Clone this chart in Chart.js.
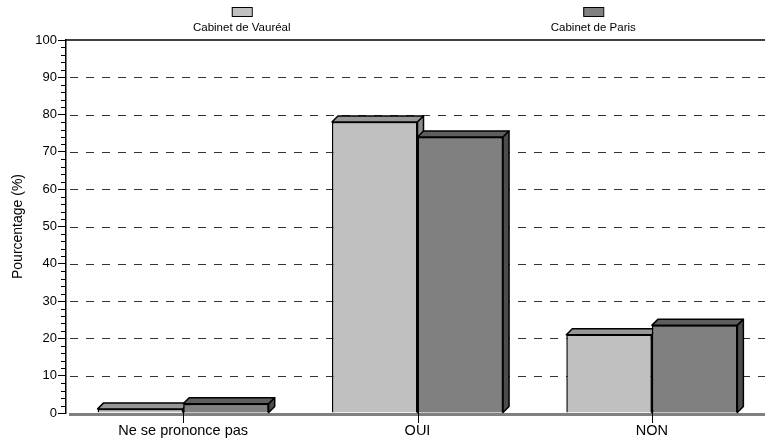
<!DOCTYPE html>
<html>
<head>
<meta charset="utf-8">
<script src="https://cdn.jsdelivr.net/npm/chart.js@4/dist/chart.umd.min.js"></script>
<style>
  html, body { margin: 0; padding: 0; background: #fff; overflow: hidden; }
  #wrap { width: 770px; height: 443px; }
</style>
</head>
<body>
<div id="wrap"><canvas id="c" width="770" height="443"></canvas></div>
<script>
// Survey answers per office (percent of respondents)
const categories = ['Ne se prononce pas', 'OUI', 'NON'];
const seriesNames = ['Cabinet de Vauréal', 'Cabinet de Paris'];
const vaureal = [1.1, 78, 21];
const paris = [2.5, 74, 23.5];
const yTicks = [0, 10, 20, 30, 40, 50, 60, 70, 80, 90, 100];

const FONT = "'Liberation Sans', Arial, sans-serif";
const faces = [
  { front: '#c0c0c0', top: '#979797', side: '#8a8a8a' },
  { front: '#808080', top: '#5e5e5e', side: '#4c4c4c' }
];
const DX = 6, DY = -6;

function drawDepth(ctx, bar, f) {
  const p = bar.getProps(['x', 'y', 'base', 'width'], true);
  const l = p.x - p.width / 2, r = p.x + p.width / 2;
  const t = p.y, b = p.base;
  ctx.save();
  ctx.lineWidth = 1.5;
  ctx.strokeStyle = '#000';
  ctx.lineJoin = 'round';
  // top face
  ctx.beginPath();
  ctx.moveTo(l, t);
  ctx.lineTo(l + DX, t + DY);
  ctx.lineTo(r + DX, t + DY);
  ctx.lineTo(r, t);
  ctx.closePath();
  ctx.fillStyle = f.top;
  ctx.fill();
  ctx.stroke();
  // side face
  ctx.beginPath();
  ctx.moveTo(r, t);
  ctx.lineTo(r + DX, t + DY);
  ctx.lineTo(r + DX, b + DY);
  ctx.lineTo(r, b);
  ctx.closePath();
  ctx.fillStyle = f.side;
  ctx.fill();
  ctx.stroke();
  ctx.restore();
}

// 3D look: first series' depth, then the second series on top of it
const depthPlugin = {
  id: 'depth',
  afterDatasetsDraw(chart) {
    const ctx = chart.ctx;
    chart.getDatasetMeta(0).data.forEach(bar => drawDepth(ctx, bar, faces[0]));
    chart.getDatasetMeta(1).data.forEach(bar => {
      bar.draw(ctx, chart.chartArea);
      drawDepth(ctx, bar, faces[1]);
    });
  }
};

// dashed grid, frame top, floor, minor ticks, category ticks, legend
const framePlugin = {
  id: 'frame',
  beforeDatasetsDraw(chart) {
    const ctx = chart.ctx, a = chart.chartArea;
    const y = chart.scales.y, x = chart.scales.x;
    ctx.save();
    ctx.strokeStyle = '#333';
    ctx.lineWidth = 1;
    ctx.setLineDash([8, 8]);
    yTicks.forEach(v => {
      if (v === 0 || v === 100) return;
      const py = Math.round(y.getPixelForValue(v)) + 0.5;
      ctx.beginPath();
      ctx.moveTo(a.left + 4, py);
      ctx.lineTo(a.right, py);
      ctx.stroke();
    });
    ctx.setLineDash([]);
    // top frame line
    ctx.strokeStyle = '#000';
    ctx.lineWidth = 1.5;
    const pTop = y.getPixelForValue(100);
    ctx.beginPath();
    ctx.moveTo(a.left, pTop);
    ctx.lineTo(a.right, pTop);
    ctx.stroke();
    // minor ticks every 2 %
    ctx.lineWidth = 1;
    for (let v = 2; v < 100; v += 2) {
      if (v % 10 === 0) continue;
      const py = Math.round(y.getPixelForValue(v)) + 0.5;
      ctx.beginPath();
      ctx.moveTo(a.left - 5, py);
      ctx.lineTo(a.left, py);
      ctx.stroke();
    }
    // floor
    const p0 = y.getPixelForValue(0);
    ctx.fillStyle = '#808080';
    ctx.fillRect(a.left + 3, p0, a.right - a.left, 3);
    // category ticks
    ctx.strokeStyle = '#000';
    ctx.lineWidth = 1;
    categories.forEach((c, i) => {
      const px = Math.round(x.getPixelForValue(i)) + 0.5;
      ctx.beginPath();
      ctx.moveTo(px, p0 - 4);
      ctx.lineTo(px, p0 + 10);
      ctx.stroke();
    });
    ctx.restore();
  },
  afterDraw(chart) {
    // legend: swatch above its label, centred on quarter points of the plot
    const ctx = chart.ctx, a = chart.chartArea;
    const w = a.right - a.left;
    ctx.save();
    ctx.font = '11.5px ' + FONT;
    ctx.textAlign = 'center';
    ctx.textBaseline = 'middle';
    seriesNames.forEach((name, i) => {
      const cx = a.left + w * (i === 0 ? 0.25 : 0.75);
      ctx.fillStyle = faces[i].front;
      ctx.fillRect(cx - 10, 7, 20, 9);
      ctx.strokeStyle = '#000';
      ctx.lineWidth = 1;
      ctx.strokeRect(cx - 10 + 0.5, 7.5, 20, 9);
      ctx.fillStyle = '#000';
      ctx.fillText(name, cx, 28);
    });
    ctx.restore();
  }
};

new Chart(document.getElementById('c'), {
  type: 'bar',
  data: {
    labels: categories,
    datasets: [
      {
        label: seriesNames[0], data: vaureal,
        backgroundColor: faces[0].front, borderColor: '#000', borderWidth: 1.5,
        categoryPercentage: 0.73, barPercentage: 1
      },
      {
        label: seriesNames[1], data: paris,
        backgroundColor: faces[1].front, borderColor: '#000', borderWidth: 1.5,
        categoryPercentage: 0.73, barPercentage: 1
      }
    ]
  },
  options: {
    responsive: false,
    animation: false,
    layout: { padding: { top: 40, right: 1, left: 0, bottom: 0 } },
    plugins: { legend: { display: false }, tooltip: { enabled: false } },
    scales: {
      y: {
        min: 0, max: 100,
        afterBuildTicks(scale) { scale.ticks = yTicks.map(v => ({ value: v })); },
        afterFit(scale) { scale.width = 66; },
        ticks: { color: '#000', font: { family: FONT, size: 13 }, padding: 1 },
        grid: { color: 'transparent', tickColor: '#000', tickLength: 8, tickWidth: 1 },
        border: { color: '#000', width: 1.5 },
        title: {
          display: true, text: 'Pourcentage (%)', color: '#000',
          font: { family: FONT, size: 14 }, padding: { top: 10, bottom: 0 }
        }
      },
      x: {
        afterFit(scale) { scale.height = 30; },
        ticks: { color: '#000', font: { family: FONT, size: 14.5 }, padding: 1 },
        grid: { display: false },
        border: { display: false }
      }
    }
  },
  plugins: [depthPlugin, framePlugin]
});
</script>
</body>
</html>
